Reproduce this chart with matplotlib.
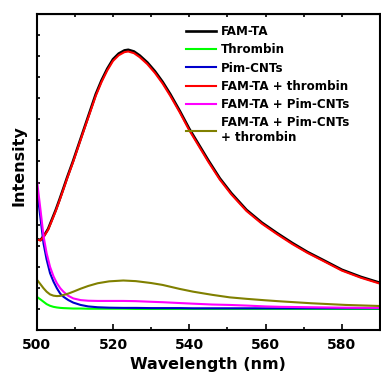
import matplotlib
matplotlib.use("Agg")
import matplotlib.pyplot as plt
from matplotlib.ticker import MultipleLocator, NullFormatter

plt.rcParams['font.family'] = ['DejaVu Sans']
plt.rcParams['font.weight'] = 'bold'

# FAM-TA curves (black / red)
wl_fam = [500, 501, 502, 503, 504, 505, 506, 507, 508, 509.5,
          511, 512.5, 514, 515.5, 517, 518.5, 520, 521.5, 523, 524,
          525.5, 527, 529, 531, 533, 535, 537.5, 540, 542.5, 545,
          548, 551, 555, 559, 563, 567, 571, 575, 580, 585, 590]
fam_ta = [4.32, 4.27, 4.5, 4.8, 5.25, 5.7, 6.2, 6.72, 7.25, 8.0,
          8.8, 9.6, 10.4, 11.2, 11.85, 12.4, 12.85, 13.12, 13.27, 13.3,
          13.22, 13.03, 12.7, 12.28, 11.78, 11.2, 10.4, 9.55, 8.8, 8.05,
          7.2, 6.5, 5.7, 5.1, 4.6, 4.13, 3.7, 3.33, 2.86, 2.52, 2.24]
fam_ta_thrombin = [4.3, 4.25, 4.47, 4.76, 5.2, 5.65, 6.15, 6.67, 7.2, 7.95,
                   8.75, 9.55, 10.33, 11.12, 11.77, 12.32, 12.77, 13.04, 13.19, 13.22,
                   13.14, 12.95, 12.62, 12.2, 11.7, 11.12, 10.33, 9.48, 8.73, 7.98,
                   7.14, 6.44, 5.65, 5.05, 4.55, 4.08, 3.66, 3.29, 2.82, 2.48, 2.2]

# low-intensity curves
wl_low = [500, 501, 501.8, 502.6, 503.5, 504.4, 505.3, 506.2, 507, 508.3,
          509.6, 511.5, 513.5, 516, 519, 522.7, 526, 530, 533, 537.5,
          541, 546, 550.6, 555, 560, 564, 572, 581, 590]
thrombin = [1.58, 1.45, 1.34, 1.23, 1.15, 1.10, 1.07, 1.05, 1.04, 1.03,
            1.02, 1.02, 1.01, 1.01, 1.01, 1.01, 1.0, 1.0, 1.0, 1.0,
            1.0, 1.0, 1.0, 1.0, 1.0, 1.0, 1.0, 1.0, 1.0]
pim_cnts = [6.8, 5.3, 4.1, 3.35, 2.7, 2.3, 1.98, 1.72, 1.58, 1.42,
            1.3, 1.19, 1.12, 1.08, 1.06, 1.05, 1.05, 1.04, 1.04, 1.04,
            1.03, 1.03, 1.03, 1.03, 1.03, 1.03, 1.03, 1.03, 1.03]
fam_ta_pim = [7.2, 5.7, 4.45, 3.65, 3.0, 2.55, 2.22, 1.98, 1.82, 1.62,
              1.5, 1.42, 1.39, 1.38, 1.38, 1.38, 1.37, 1.34, 1.32, 1.28,
              1.25, 1.21, 1.19, 1.16, 1.12, 1.10, 1.08, 1.06, 1.05]
fam_ta_pim_thrombin = [2.4, 2.17, 1.98, 1.82, 1.69, 1.63, 1.61, 1.62, 1.66, 1.73,
                       1.82, 1.96, 2.09, 2.22, 2.31, 2.35, 2.32, 2.23, 2.14, 1.95,
                       1.82, 1.67, 1.55, 1.48, 1.41, 1.36, 1.27, 1.19, 1.14]

fig = plt.figure(figsize=(3.81, 3.76), dpi=100)
ax = fig.add_axes([0.0963, 0.1223, 0.9011, 0.8405])

ax.plot(wl_fam, fam_ta, color="black", lw=1.9, label="FAM-TA")
ax.plot(wl_low, thrombin, color="#00ff00", lw=1.5, label="Thrombin")
ax.plot(wl_low, pim_cnts, color="#0000cc", lw=1.5, label="Pim-CNTs")
ax.plot(wl_fam, fam_ta_thrombin, color="red", lw=1.5, label="FAM-TA + thrombin")
ax.plot(wl_low, fam_ta_pim, color="#ff00ff", lw=1.5, label="FAM-TA + Pim-CNTs")
ax.plot(wl_low, fam_ta_pim_thrombin, color="#808000", lw=1.5,
        label="FAM-TA + Pim-CNTs\n+ thrombin")

ax.set_xlim(500, 590)
ax.set_ylim(0, 15)
ax.xaxis.set_major_locator(MultipleLocator(20))
ax.xaxis.set_minor_locator(MultipleLocator(10))
ax.yaxis.set_major_locator(MultipleLocator(1))
ax.yaxis.set_major_formatter(NullFormatter())
ax.tick_params(axis="x", which="major", direction="in", length=4.5, width=1.2,
               labelsize=10, pad=6)
ax.tick_params(axis="x", which="minor", direction="in", length=2.5, width=1.2)
ax.tick_params(axis="y", direction="in", length=2.5, width=1.2)

top = ax.secondary_xaxis("top")
top.set_xticks(range(500, 591, 10))
top.tick_params(direction="in", length=2.5, width=1.2, labeltop=False)

for s in ax.spines.values():
    s.set_linewidth(1.5)

ax.set_xlabel("Wavelength (nm)", fontsize=11.5, fontweight="bold", labelpad=3)
ax.set_ylabel("Intensity", fontsize=11.5, fontweight="bold")
ax.yaxis.set_label_coords(-0.03, 0.519)

ax.legend(loc="upper left", bbox_to_anchor=(0.435, 0.965), frameon=False,
          fontsize=8.6, handlelength=2.5, handletextpad=0.45, labelspacing=0.44,
          borderpad=0, borderaxespad=0)

fig.savefig("out.png", dpi=100)
